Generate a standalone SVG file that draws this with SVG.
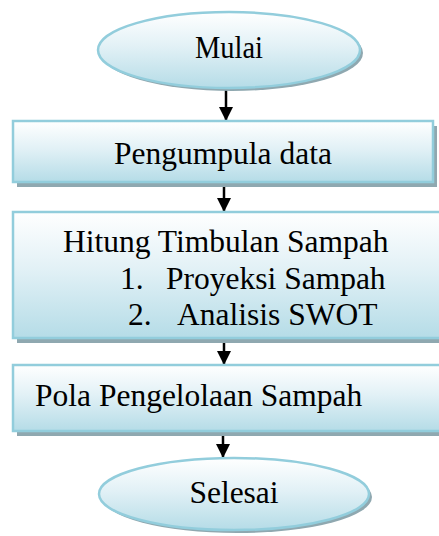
<svg xmlns="http://www.w3.org/2000/svg" width="439" height="536" viewBox="0 0 439 536">
<defs>
<linearGradient id="g" x1="0" y1="0" x2="0" y2="1">
<stop offset="0" stop-color="#ffffff"/>
<stop offset="0.45" stop-color="#e2f1f6"/>
<stop offset="1" stop-color="#b5dce7"/>
</linearGradient>
<marker id="ah" viewBox="0 0 10 10" refX="10" refY="5" markerWidth="5.8" markerHeight="5.8" markerUnits="strokeWidth" orient="auto">
<path d="M0,0 L10,5 L0,10 Z" fill="#000"/>
</marker>
<style>
.sh{fill:#8fa8b0}
.nd{fill:url(#g);stroke:#92cddc;stroke-width:2.5}
.t{font-family:"Liberation Serif","Times New Roman",serif;fill:#000}
.c{stroke:#000;stroke-width:2.5;fill:none;marker-end:url(#ah)}
</style>
</defs>
<g id="connectors">
<line class="c" x1="226" y1="88" x2="226" y2="121"/>
<line class="c" x1="224" y1="182" x2="224" y2="212"/>
<line class="c" x1="224" y1="338" x2="224" y2="365"/>
<line class="c" x1="223" y1="431" x2="223" y2="458"/>
</g>
<g id="mulai">
<ellipse class="sh" cx="232" cy="53" rx="131" ry="38"/>
<ellipse class="nd" cx="229" cy="50" rx="131" ry="38"/>
<text class="t" x="195" y="58" font-size="31" textLength="68" lengthAdjust="spacingAndGlyphs">Mulai</text>
</g>
<g id="pengumpulan">
<rect class="sh" x="17" y="126" width="420" height="61"/>
<rect class="nd" x="13" y="121" width="420" height="61"/>
<text class="t" x="223" y="164" font-size="31.5" text-anchor="middle">Pengumpula data</text>
</g>
<g id="hitung">
<rect class="sh" x="17" y="217" width="430" height="126"/>
<rect class="nd" x="13" y="212" width="440" height="126"/>
<text class="t" x="63" y="252" font-size="31.5">Hitung Timbulan Sampah</text>
<text class="t" x="120" y="289" font-size="31.5">1.</text>
<text class="t" x="166" y="289" font-size="31.5">Proyeksi Sampah</text>
<text class="t" x="128" y="325" font-size="31.5">2.</text>
<text class="t" x="177" y="325" font-size="31.5">Analisis SWOT</text>
</g>
<g id="pola">
<rect class="sh" x="17" y="370" width="430" height="66"/>
<rect class="nd" x="13" y="365" width="440" height="66"/>
<text class="t" x="35" y="406" font-size="31.5">Pola Pengelolaan Sampah</text>
</g>
<g id="selesai">
<ellipse class="sh" cx="237" cy="497" rx="135" ry="36"/>
<ellipse class="nd" cx="234" cy="494" rx="135" ry="36"/>
<text class="t" x="234" y="503" font-size="31.5" text-anchor="middle">Selesai</text>
</g>
</svg>
